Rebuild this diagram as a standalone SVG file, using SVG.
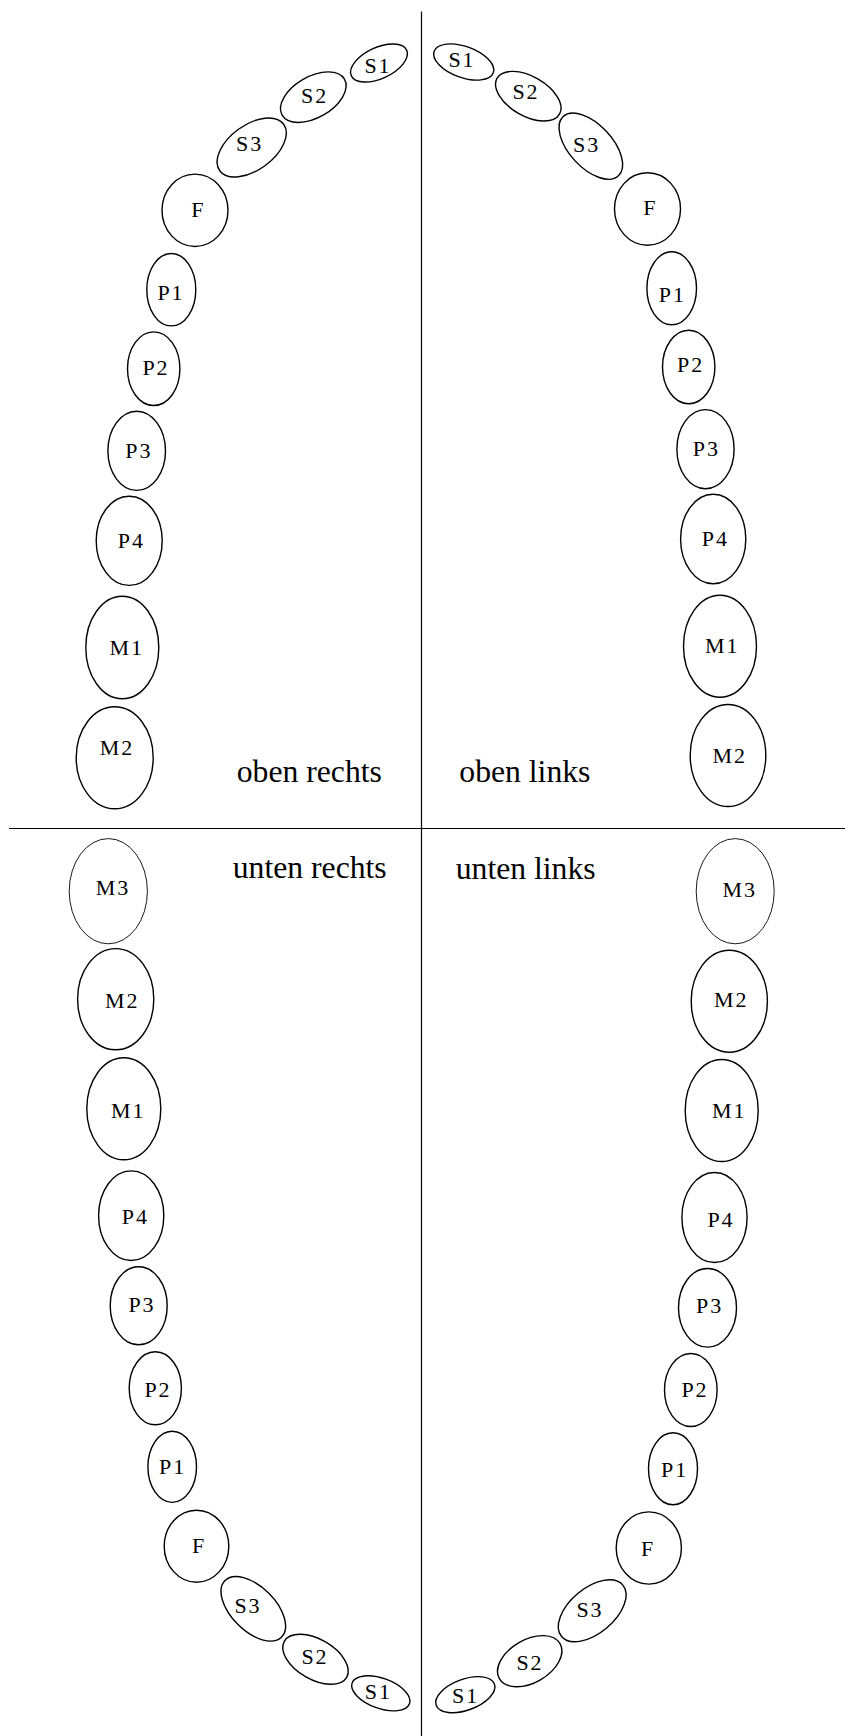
<svg xmlns="http://www.w3.org/2000/svg" width="845" height="1736" viewBox="0 0 845 1736">
<style>
.t ellipse{fill:none;stroke:#000;stroke-width:1.4}
.t.thin ellipse{stroke-width:0.9}
.t text{font-family:"Liberation Serif","Times New Roman",serif;font-size:22px;text-anchor:middle;fill:#000;letter-spacing:2px}
.q{font-family:"Liberation Serif","Times New Roman",serif;font-size:31.7px;fill:#000}
.ax{stroke:#000;stroke-width:1.2}
</style>
<rect width="845" height="1736" fill="#fff"/>
<g id="axes">
<line class="ax" x1="421.5" y1="11.5" x2="421.5" y2="1736"/>
<line class="ax" x1="9" y1="828.5" x2="845" y2="828.5"/>
</g>
<g id="quadrant-labels">
<text class="q" x="236.7" y="782.3">oben rechts</text>
<text class="q" x="459.3" y="781.7">oben links</text>
<text class="q" x="232.7" y="878.3">unten rechts</text>
<text class="q" x="455.7" y="879">unten links</text>
</g>
<!-- oben rechts -->
<g id="or-S1" class="t"><ellipse cx="379" cy="63" rx="30.5" ry="15.5" transform="rotate(-25 379 63)"/><text x="378" y="72.7">S1</text></g>
<g id="or-S2" class="t"><ellipse cx="313.3" cy="97.2" rx="36" ry="20.5" transform="rotate(-30 313.3 97.2)"/><text x="314.7" y="102.7">S2</text></g>
<g id="or-S3" class="t"><ellipse cx="251.7" cy="147.5" rx="39.5" ry="22.5" transform="rotate(-36 251.7 147.5)"/><text x="249.7" y="151">S3</text></g>
<g id="or-F" class="t"><ellipse cx="195" cy="210.3" rx="33" ry="36.2"/><text x="198.3" y="217.3">F</text></g>
<g id="or-P1" class="t"><ellipse cx="171.3" cy="289.7" rx="24.5" ry="36.2"/><text x="171" y="300">P1</text></g>
<g id="or-P2" class="t"><ellipse cx="153.7" cy="368.7" rx="26.2" ry="36.8"/><text x="156" y="375">P2</text></g>
<g id="or-P3" class="t"><ellipse cx="136.7" cy="450.8" rx="28.8" ry="39.6"/><text x="138.8" y="457.7">P3</text></g>
<g id="or-P4" class="t"><ellipse cx="129.2" cy="540.8" rx="33" ry="44.6"/><text x="131.3" y="548.3">P4</text></g>
<g id="or-M1" class="t"><ellipse cx="122.3" cy="647.5" rx="36.5" ry="51.3"/><text x="126.8" y="655">M1</text></g>
<g id="or-M2" class="t"><ellipse cx="114.7" cy="757.8" rx="38.5" ry="51"/><text x="117" y="755">M2</text></g>
<!-- oben links -->
<g id="ol-S1" class="t"><ellipse cx="463.7" cy="62" rx="31.5" ry="15.5" transform="rotate(20 463.7 62)"/><text x="462" y="66.7">S1</text></g>
<g id="ol-S2" class="t"><ellipse cx="528.3" cy="96.2" rx="36" ry="19.8" transform="rotate(30 528.3 96.2)"/><text x="526" y="99">S2</text></g>
<g id="ol-S3" class="t"><ellipse cx="590.8" cy="146.2" rx="40.5" ry="21.5" transform="rotate(47 590.8 146.2)"/><text x="586.7" y="151.7">S3</text></g>
<g id="ol-F" class="t"><ellipse cx="647.5" cy="209" rx="33" ry="36.2"/><text x="650.3" y="215">F</text></g>
<g id="ol-P1" class="t"><ellipse cx="671.7" cy="288.3" rx="24.8" ry="36.5"/><text x="672.3" y="301.7">P1</text></g>
<g id="ol-P2" class="t"><ellipse cx="688.7" cy="367" rx="26.2" ry="36.8"/><text x="690.7" y="372.3">P2</text></g>
<g id="ol-P3" class="t"><ellipse cx="705.5" cy="449.2" rx="28.6" ry="39.6"/><text x="706.3" y="456">P3</text></g>
<g id="ol-P4" class="t"><ellipse cx="713.2" cy="539" rx="32.6" ry="44.8"/><text x="715.3" y="546">P4</text></g>
<g id="ol-M1" class="t"><ellipse cx="720" cy="646.2" rx="36.5" ry="51"/><text x="722.3" y="652.7">M1</text></g>
<g id="ol-M2" class="t"><ellipse cx="728" cy="755.5" rx="37.8" ry="51"/><text x="729.7" y="763.3">M2</text></g>
<!-- unten rechts -->
<g id="ur-M3" class="t thin"><ellipse cx="108.3" cy="891.2" rx="39.1" ry="52.6"/><text x="113" y="895">M3</text></g>
<g id="ur-M2" class="t"><ellipse cx="115.7" cy="999.2" rx="38.1" ry="50.6"/><text x="122.3" y="1007.7">M2</text></g>
<g id="ur-M1" class="t"><ellipse cx="123.8" cy="1108.8" rx="37" ry="51"/><text x="128.3" y="1117.7">M1</text></g>
<g id="ur-P4" class="t"><ellipse cx="131.2" cy="1215.7" rx="32.6" ry="44.8"/><text x="135.3" y="1224.3">P4</text></g>
<g id="ur-P3" class="t"><ellipse cx="138.7" cy="1305.8" rx="28.5" ry="39"/><text x="142" y="1312.3">P3</text></g>
<g id="ur-P2" class="t"><ellipse cx="155.3" cy="1388.3" rx="26.1" ry="36.5"/><text x="158" y="1396.7">P2</text></g>
<g id="ur-P1" class="t"><ellipse cx="172.2" cy="1466.8" rx="24.3" ry="35.6"/><text x="172.7" y="1474.3">P1</text></g>
<g id="ur-F" class="t"><ellipse cx="196.5" cy="1546.2" rx="32.3" ry="36"/><text x="199" y="1553.3">F</text></g>
<g id="ur-S3" class="t"><ellipse cx="253.3" cy="1608.8" rx="40" ry="22" transform="rotate(45 253.3 1608.8)"/><text x="248" y="1613.3">S3</text></g>
<g id="ur-S2" class="t"><ellipse cx="315.5" cy="1659.3" rx="36" ry="20" transform="rotate(30 315.5 1659.3)"/><text x="315" y="1664">S2</text></g>
<g id="ur-S1" class="t"><ellipse cx="380.8" cy="1693.3" rx="30.5" ry="15" transform="rotate(20 380.8 1693.3)"/><text x="378.3" y="1699">S1</text></g>
<!-- unten links -->
<g id="ul-M3" class="t thin"><ellipse cx="735.2" cy="891.2" rx="39" ry="52.6"/><text x="739.7" y="897.3">M3</text></g>
<g id="ul-M2" class="t"><ellipse cx="729.3" cy="1001.2" rx="38.1" ry="51"/><text x="731.3" y="1006.7">M2</text></g>
<g id="ul-M1" class="t"><ellipse cx="721.7" cy="1110.5" rx="36.5" ry="51"/><text x="729.3" y="1117.7">M1</text></g>
<g id="ul-P4" class="t"><ellipse cx="714.5" cy="1217.5" rx="32.6" ry="45"/><text x="721" y="1227.3">P4</text></g>
<g id="ul-P3" class="t"><ellipse cx="707.5" cy="1307.8" rx="29" ry="39.3"/><text x="709.7" y="1313.3">P3</text></g>
<g id="ul-P2" class="t"><ellipse cx="690.8" cy="1390" rx="26.3" ry="36.5"/><text x="695" y="1396.7">P2</text></g>
<g id="ul-P1" class="t"><ellipse cx="673" cy="1468.8" rx="24.5" ry="36"/><text x="674.7" y="1477.3">P1</text></g>
<g id="ul-F" class="t"><ellipse cx="648.8" cy="1548" rx="32.6" ry="36.1"/><text x="648" y="1555.7">F</text></g>
<g id="ul-S3" class="t"><ellipse cx="592.2" cy="1610.8" rx="40" ry="22.5" transform="rotate(-40 592.2 1610.8)"/><text x="590" y="1617.3">S3</text></g>
<g id="ul-S2" class="t"><ellipse cx="529.7" cy="1661.2" rx="35" ry="21.5" transform="rotate(-30 529.7 1661.2)"/><text x="530" y="1670">S2</text></g>
<g id="ul-S1" class="t"><ellipse cx="465.3" cy="1694.7" rx="31" ry="15.5" transform="rotate(-20 465.3 1694.7)"/><text x="465.7" y="1703.3">S1</text></g>
</svg>
